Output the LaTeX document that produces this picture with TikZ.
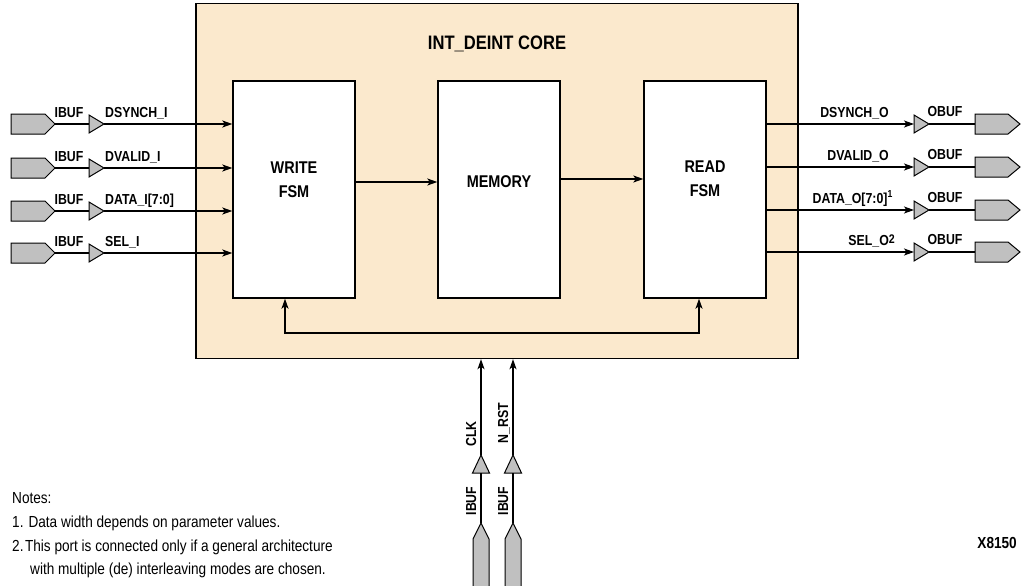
\documentclass[tikz,border=0pt]{standalone}
\usepackage{fontspec}
\setmainfont{Liberation Sans}[FakeStretch=0.85]
\usetikzlibrary{arrows.meta,calc}
\definecolor{corefill}{RGB}{251,233,205}
\definecolor{padgray}{RGB}{192,192,192}
\begin{document}
\begin{tikzpicture}[x=1pt,y=-1pt,
  fsm/.style={draw, line width=1.4pt, fill=white, minimum width=122pt, minimum height=217pt, inner sep=0pt},
  boxtxt/.style={inner sep=0pt, align=center, font=\fontsize{17}{24}\selectfont\bfseries},
  sig/.style={inner sep=0pt, font=\fontsize{14.5}{14.5}\selectfont\bfseries},
  note/.style={inner sep=0pt, font=\fontsize{16}{16}\selectfont},
  tip/.style={Stealth[length=10pt,width=7pt,inset=2.5pt]},
  arr/.style={-{Stealth[length=10pt,width=7pt,inset=2.5pt]}, line width=1.2pt},
  arrboth/.style={{Stealth[length=10pt,width=7pt,inset=2.5pt]}-{Stealth[length=10pt,width=7pt,inset=2.5pt]}, line width=1.2pt},
  buf/.style={draw, fill=padgray, line width=1pt, line join=miter},
  wire/.style={line width=1.2pt},
]
\useasboundingbox (0,0) rectangle (1025,586);

% core
\node[draw, fill=corefill, line width=1.4pt, minimum width=602pt, minimum height=355pt, inner sep=0pt] (core) at (497,181) {};
\node[inner sep=0pt, anchor=base, font=\fontsize{19.5}{19.5}\selectfont\bfseries] (title) at (497,49) {INT\_DEINT CORE};

% FSM boxes
\node[fsm] (write) at (294,189.5) {};
\node[fsm] (memory) at (499,189.5) {};
\node[fsm] (read) at (705,189.5) {};
\node[boxtxt] (writetxt) at (294,180) {WRITE\\FSM};
\node[boxtxt] (memtxt) at (499,182) {MEMORY};
\node[boxtxt] (readtxt) at (705,179) {READ\\FSM};

\coordinate (r1) at (0,182);
\coordinate (r2) at (0,179);
\draw[arr] (write.east |- r1) -- (memory.west |- r1);
\draw[arr] (memory.east |- r2) -- (read.west |- r2);

% feedback
\coordinate (fbL) at (285,333);
\coordinate (fbR) at (699,333);
\draw[arrboth] (write.south -| fbL) -- (fbL) -- (fbR) -- (read.south -| fbR);

% inputs
\foreach \y/\lab/\n in {124/{DSYNCH\_I}/1, 168/{DVALID\_I}/2, 211/{DATA\_I[7:0]}/3, 253/{SEL\_I}/4} {
  \draw[buf] (11,\y-10) -- (45,\y-10) -- (55,\y) -- (45,\y+10) -- (11,\y+10) -- cycle;
  \coordinate (inpad\n) at (55,\y);
  \draw[buf] (89,\y-9) -- (104,\y) -- (89,\y+9) -- cycle;
  \coordinate (ibufin\n) at (89,\y);
  \coordinate (ibufout\n) at (104,\y);
  \draw[wire] (inpad\n) -- (ibufin\n);
  \draw[arr] (ibufout\n) -- (write.west |- ibufout\n);
  \node[sig, anchor=base] (ibl\n) at (69,\y-7) {IBUF};
  \node[sig, anchor=base west] (inl\n) at (105,\y-7) {\lab};
}

% outputs
\foreach \y/\lab/\lx/\n in {124/{DSYNCH\_O}/889/1, 167/{DVALID\_O}/889/2, 210/{DATA\_O[7:0]\textsuperscript{1}}/893/3, 252/{SEL\_O\raisebox{1.5pt}{\fontsize{12.5}{12.5}\selectfont 2}}/895/4} {
  \coordinate (obufin\n) at (914,\y);
  \coordinate (obufout\n) at (929,\y);
  \coordinate (outpad\n) at (975,\y);
  \draw[arr] (read.east |- obufin\n) -- (obufin\n);
  \draw[buf] (914,\y-9) -- (929,\y) -- (914,\y+9) -- cycle;
  \draw[wire] (obufout\n) -- (outpad\n);
  \draw[buf] (975,\y-10) -- (1008,\y-10) -- (1020,\y) -- (1008,\y+10) -- (975,\y+10) -- cycle;
  \node[sig, anchor=base east] (outl\n) at (\lx,\y-7) {\lab};
  \node[sig, anchor=base] (obl\n) at (945,\y-8) {OBUF};
}

% bottom inputs
\foreach \x/\lab/\ly/\lb/\n in {481/CLK/434/476/1, 513/{N\_RST}/423/508/2} {
  \draw[buf] (\x-8,587) -- (\x-8,539) -- (\x,523) -- (\x+8,539) -- (\x+8,587) -- cycle;
  \coordinate (bpad\n) at (\x,523);
  \draw[buf] (\x-8.5,473) -- (\x,455) -- (\x+8.5,473) -- cycle;
  \coordinate (bbufin\n) at (\x,473);
  \coordinate (bbufout\n) at (\x,455);
  \draw[wire] (bpad\n) -- (bbufin\n);
  \draw[arr] (bbufout\n) -- (core.south -| bbufout\n);
  \node[sig, rotate=90, anchor=base] (bl\n) at (\lb,\ly) {\lab};
  \node[sig, rotate=90, anchor=base] (bib\n) at (\lb,501) {IBUF};
}

% notes
\node[note, anchor=base west] (n0) at (12,503) {Notes:};
\node[note, anchor=base west] (n1) at (12,527) {1. Data width depends on parameter values.};
\node[note, anchor=base west] (n2) at (12,551) {2.\hspace{1.5pt}This port is connected only if a general architecture};
\node[note, anchor=base west] (n3) at (30,574) {with multiple (de) interleaving modes are chosen.};

\node[inner sep=0pt, anchor=base east, font=\fontsize{16}{16}\selectfont\bfseries] (fig) at (1017,548) {X8150};
\end{tikzpicture}
\end{document}
